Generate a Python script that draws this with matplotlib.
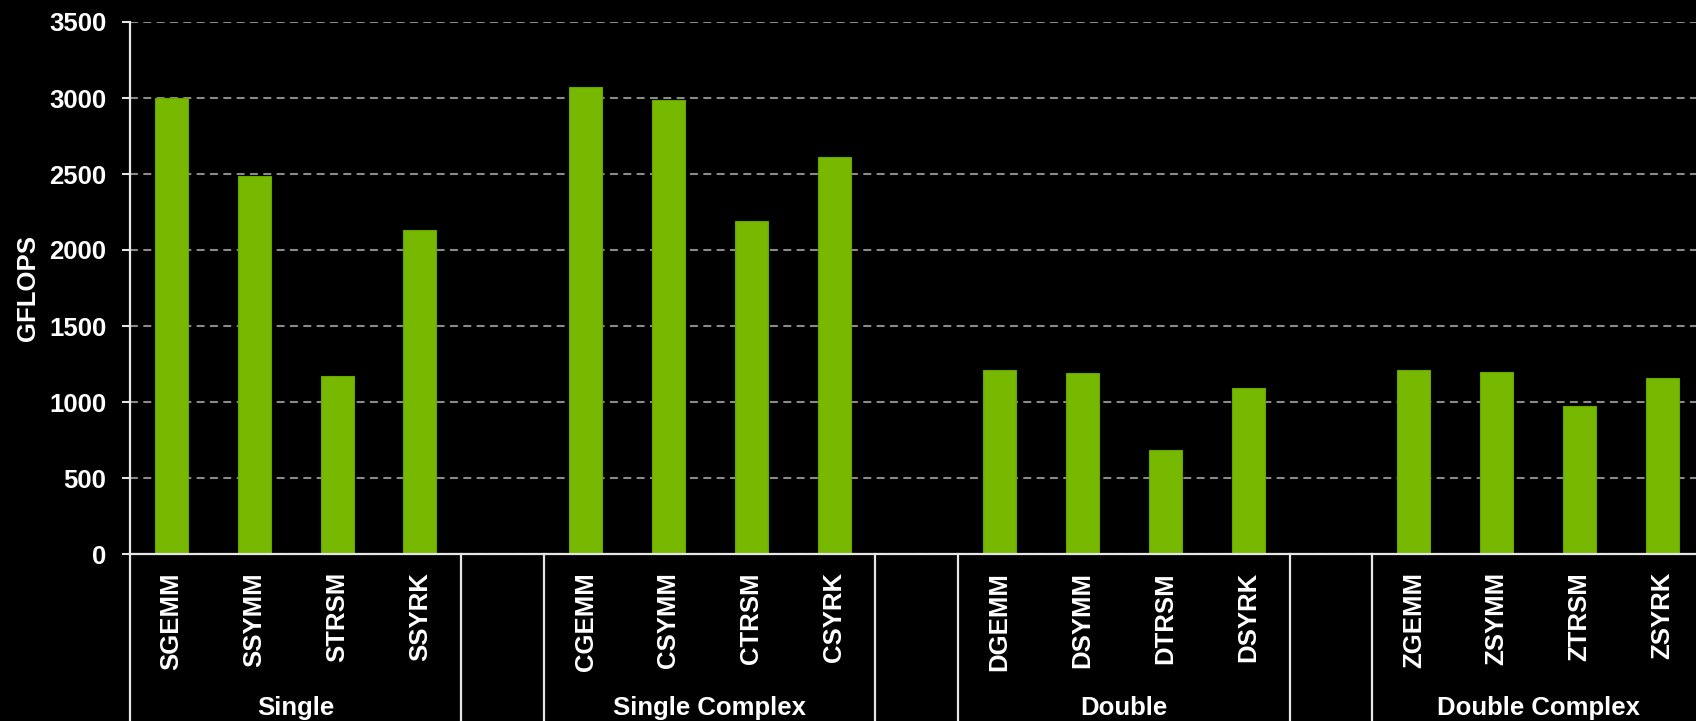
import matplotlib
matplotlib.use("Agg")
import matplotlib.pyplot as plt
import matplotlib.transforms as mtransforms

groups = ["Single", "Single Complex", "Double", "Double Complex"]
routines = [
    ["SGEMM", "SSYMM", "STRSM", "SSYRK"],
    ["CGEMM", "CSYMM", "CTRSM", "CSYRK"],
    ["DGEMM", "DSYMM", "DTRSM", "DSYRK"],
    ["ZGEMM", "ZSYMM", "ZTRSM", "ZSYRK"],
]
gflops = [
    [3000, 2490, 1170, 2132],
    [3070, 2990, 2190, 2612],
    [1208, 1188, 682, 1092],
    [1208, 1195, 976, 1156],
]
yticks = [0, 500, 1000, 1500, 2000, 2500, 3000, 3500]

GREEN = "#76b900"
FG = "#ffffff"
LINE = "#e6e6e6"
plt.rcParams['font.family'] = ['Liberation Sans', 'DejaVu Sans']
plt.rcParams['font.weight'] = 'bold'

fig = plt.figure(figsize=(16.96, 7.21), dpi=100, facecolor="black")
W, H = 1696, 721
left_px, right_px = 130, 1703.8
top_px, bot_px = 22, 554
ax = fig.add_axes([left_px / W, 1 - bot_px / H, (right_px - left_px) / W, (bot_px - top_px) / H])
ax.set_facecolor("black")

xs, labels, heights = [], [], []
group_centers = []
seps = []
pos = 0
for gi, (names, vals) in enumerate(zip(routines, gflops)):
    start = pos
    for n, v in zip(names, vals):
        xs.append(pos)
        labels.append(n)
        heights.append(v)
        pos += 1
    group_centers.append((start + pos - 1) / 2)
    if gi < len(groups) - 1:
        seps.append(pos - 0.5)
        seps.append(pos + 0.5)
        pos += 1

ax.bar(xs, heights, width=0.4, color=GREEN, edgecolor="#6aa600", linewidth=0.8, zorder=3)

ax.set_xlim(-0.5, pos - 0.5)
ax.set_ylim(0, 3500)
ax.set_yticks(yticks)
ax.set_yticklabels([str(t) for t in yticks], fontsize=18.5, fontweight="bold", color=FG)
ax.set_xticks(xs)
ax.set_xticklabels(labels, rotation=90, fontsize=18.5, fontweight="bold", color=FG)
ax.tick_params(axis="x", length=0, pad=13)
ax.tick_params(axis="y", length=6, width=1.5, color=LINE, pad=11, direction="out")

ax.yaxis.grid(True, color="#8a8a8a", linewidth=1.5, linestyle=(0, (3.8, 2.6)))
ax.set_axisbelow(True)
for s in ["top", "right"]:
    ax.spines[s].set_visible(False)
for s in ["left", "bottom"]:
    ax.spines[s].set_color(LINE)
    ax.spines[s].set_linewidth(1.6)
    ax.spines[s].set_zorder(4)

ax.set_ylabel("GFLOPS", fontsize=18.5, fontweight="bold", color=FG)
ax.yaxis.set_label_coords(-(130 - 40) / (right_px - left_px), 0.5)

trans = mtransforms.blended_transform_factory(ax.transData, ax.transAxes)
ybottom = -(H - bot_px) / (bot_px - top_px) - 0.02
for sx in [-0.5] + seps:
    ax.plot([sx, sx], [0, ybottom], transform=trans, color=LINE, linewidth=1.6,
            clip_on=False, zorder=4)

ylab = -(708 - bot_px) / (bot_px - top_px)
for gc, g in zip(group_centers, groups):
    ax.text(gc, ylab, g, transform=trans, ha="center", va="center",
            fontsize=18.5, fontweight="bold", color=FG)

fig.savefig("out.png", dpi=100, facecolor="black")
